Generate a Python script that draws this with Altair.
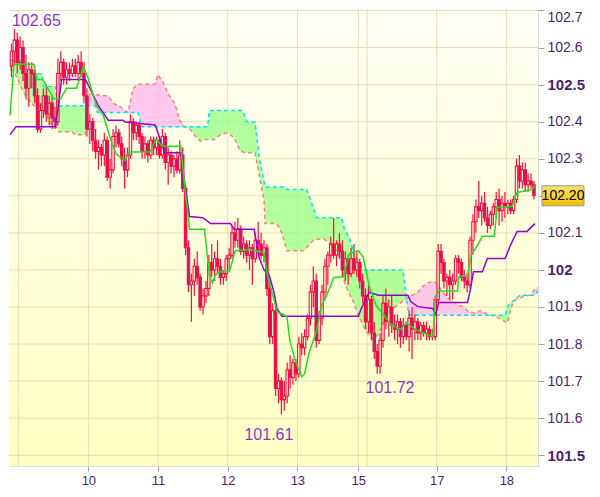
import altair as alt
import numpy as np
import pandas as pd

# ---------------- hourly candles (bar index k = 0 .. 180) ----------------
opens = [
    102.55, 102.59, 102.62, 102.56, 102.60, 102.53, 102.49, 102.54, 102.53, 102.47,
    102.38, 102.43, 102.47, 102.42, 102.45, 102.41, 102.40, 102.53, 102.56, 102.52,
    102.54, 102.53, 102.55, 102.53, 102.56, 102.53, 102.47, 102.38, 102.40, 102.35,
    102.32, 102.33, 102.31, 102.35, 102.25, 102.27, 102.36, 102.37, 102.34, 102.30,
    102.27, 102.31, 102.40, 102.37, 102.39, 102.36, 102.32, 102.34, 102.31, 102.35,
    102.33, 102.35, 102.31, 102.36, 102.29, 102.31, 102.28, 102.30, 102.27, 102.31,
    102.22, 102.06, 101.96, 101.97, 102.01, 101.98, 101.90, 101.93, 101.95, 102.02,
    102.00, 102.03, 102.01, 101.98, 101.99, 102.03, 102.04, 102.10, 102.08, 102.11,
    102.05, 102.07, 102.04, 102.06, 102.03, 102.08, 102.07, 102.04, 102.06, 101.95,
    101.82, 101.89, 101.68, 101.70, 101.65, 101.66, 101.73, 101.71, 101.75, 101.72,
    101.80, 101.79, 101.82, 101.87, 101.94, 101.97, 101.81, 101.87, 101.94, 102.01,
    102.04, 102.07, 102.04, 102.07, 102.05, 102.00, 102.03, 101.99, 102.03, 102.00,
    102.02, 101.97, 101.93, 101.86, 101.92, 101.83, 101.78, 101.74, 101.81, 101.91,
    101.86, 101.90, 101.85, 101.84, 101.86, 101.82, 101.85, 101.82, 101.87, 101.84,
    101.86, 101.83, 101.85, 101.83, 101.84, 101.82, 101.82, 101.92, 102.05, 102.02,
    101.97, 101.98, 101.96, 101.97, 102.03, 102.02, 101.98, 101.97, 101.96, 102.08,
    102.13, 102.17, 102.16, 102.18, 102.14, 102.12, 102.15, 102.17, 102.19, 102.16,
    102.18, 102.17, 102.18, 102.16, 102.19, 102.28, 102.24, 102.27, 102.23, 102.24, 102.23,
]
highs = [
    102.61, 102.65, 102.64, 102.63, 102.62, 102.58, 102.56, 102.56, 102.55, 102.49,
    102.45, 102.49, 102.50, 102.47, 102.47, 102.44, 102.57, 102.59, 102.57, 102.56,
    102.56, 102.57, 102.57, 102.58, 102.59, 102.56, 102.49, 102.42, 102.41, 102.38,
    102.35, 102.34, 102.37, 102.36, 102.30, 102.38, 102.39, 102.38, 102.36, 102.33,
    102.33, 102.42, 102.41, 102.40, 102.40, 102.37, 102.36, 102.35, 102.36, 102.36,
    102.36, 102.36, 102.38, 102.37, 102.33, 102.32, 102.31, 102.32, 102.35, 102.33,
    102.23, 102.08, 101.99, 102.03, 102.05, 101.99, 101.95, 101.97, 102.04, 102.07,
    102.05, 102.08, 102.03, 102.00, 102.04, 102.06, 102.12, 102.13, 102.14, 102.12,
    102.09, 102.08, 102.08, 102.07, 102.10, 102.13, 102.10, 102.08, 102.07, 101.97,
    101.91, 101.90, 101.72, 101.71, 101.70, 101.75, 101.77, 101.76, 101.76, 101.82,
    101.83, 101.84, 101.88, 101.96, 102.01, 101.99, 101.89, 101.96, 102.03, 102.05,
    102.09, 102.14, 102.08, 102.10, 102.08, 102.05, 102.04, 102.06, 102.07, 102.05,
    102.03, 101.99, 101.95, 101.96, 101.93, 101.86, 101.80, 101.83, 101.93, 101.95,
    101.92, 101.93, 101.88, 101.88, 101.87, 101.87, 101.86, 101.89, 101.90, 101.88,
    101.87, 101.86, 101.86, 101.86, 101.85, 101.84, 101.93, 102.07, 102.07, 102.03,
    101.99, 102.00, 101.99, 102.04, 102.04, 102.03, 102.00, 101.99, 102.09, 102.15,
    102.19, 102.24, 102.20, 102.21, 102.17, 102.16, 102.18, 102.21, 102.22, 102.20,
    102.21, 102.19, 102.19, 102.20, 102.30, 102.31, 102.29, 102.29, 102.26, 102.26, 102.24,
]
lows = [
    102.52, 102.55, 102.53, 102.54, 102.51, 102.46, 102.44, 102.49, 102.45, 102.37,
    102.37, 102.41, 102.40, 102.39, 102.38, 102.38, 102.39, 102.51, 102.50, 102.50,
    102.51, 102.52, 102.52, 102.51, 102.52, 102.45, 102.36, 102.34, 102.32, 102.30,
    102.27, 102.28, 102.28, 102.24, 102.22, 102.26, 102.33, 102.33, 102.28, 102.22,
    102.25, 102.30, 102.35, 102.35, 102.34, 102.30, 102.30, 102.29, 102.30, 102.31,
    102.31, 102.30, 102.30, 102.27, 102.23, 102.26, 102.25, 102.26, 102.26, 102.21,
    102.04, 101.94, 101.86, 101.93, 101.96, 101.89, 101.88, 101.91, 101.93, 101.98,
    101.97, 101.99, 101.96, 101.96, 101.97, 102.00, 102.03, 102.06, 102.06, 102.04,
    102.03, 102.02, 102.00, 101.96, 102.02, 102.05, 102.03, 102.02, 101.93, 101.80,
    101.80, 101.66, 101.64, 101.61, 101.62, 101.64, 101.68, 101.69, 101.70, 101.71,
    101.77, 101.77, 101.81, 101.85, 101.90, 101.79, 101.80, 101.85, 101.92, 101.96,
    102.02, 102.03, 102.01, 102.03, 101.98, 101.97, 101.96, 101.98, 101.99, 101.98,
    101.95, 101.91, 101.84, 101.83, 101.81, 101.76, 101.72, 101.72, 101.79, 101.84,
    101.82, 101.83, 101.81, 101.80, 101.79, 101.80, 101.81, 101.78, 101.76, 101.81,
    101.81, 101.81, 101.82, 101.81, 101.81, 101.81, 101.81, 101.91, 101.99, 101.95,
    101.93, 101.92, 101.92, 101.96, 101.99, 101.97, 101.95, 101.94, 101.95, 102.04,
    102.10, 102.14, 102.12, 102.13, 102.10, 102.11, 102.12, 102.14, 102.12, 102.13,
    102.14, 102.15, 102.15, 102.15, 102.18, 102.22, 102.22, 102.21, 102.21, 102.22, 102.19,
]
closes = [
    102.59, 102.62, 102.56, 102.60, 102.53, 102.49, 102.54, 102.53, 102.47, 102.38,
    102.43, 102.47, 102.42, 102.45, 102.41, 102.40, 102.53, 102.56, 102.52, 102.54,
    102.53, 102.55, 102.53, 102.56, 102.53, 102.47, 102.38, 102.40, 102.35, 102.32,
    102.33, 102.31, 102.35, 102.25, 102.27, 102.36, 102.37, 102.34, 102.30, 102.27,
    102.31, 102.40, 102.37, 102.39, 102.36, 102.32, 102.34, 102.31, 102.35, 102.33,
    102.35, 102.31, 102.36, 102.29, 102.31, 102.28, 102.30, 102.27, 102.31, 102.22,
    102.06, 101.96, 101.97, 102.01, 101.98, 101.90, 101.93, 101.95, 102.02, 102.00,
    102.03, 102.01, 101.98, 101.99, 102.03, 102.04, 102.10, 102.08, 102.11, 102.05,
    102.07, 102.04, 102.06, 102.03, 102.08, 102.07, 102.04, 102.06, 101.95, 101.82,
    101.89, 101.68, 101.70, 101.65, 101.66, 101.73, 101.71, 101.75, 101.72, 101.80,
    101.79, 101.82, 101.87, 101.94, 101.97, 101.81, 101.87, 101.94, 102.01, 102.04,
    102.07, 102.04, 102.07, 102.05, 102.00, 102.03, 101.99, 102.03, 102.00, 102.02,
    101.97, 101.93, 101.86, 101.92, 101.83, 101.78, 101.74, 101.81, 101.91, 101.86,
    101.90, 101.85, 101.84, 101.86, 101.82, 101.85, 101.82, 101.87, 101.84, 101.86,
    101.83, 101.85, 101.83, 101.84, 101.82, 101.82, 101.92, 102.05, 102.02, 101.97,
    101.98, 101.96, 101.97, 102.03, 102.02, 101.98, 101.97, 101.96, 102.08, 102.13,
    102.17, 102.16, 102.18, 102.14, 102.12, 102.15, 102.17, 102.19, 102.16, 102.18,
    102.17, 102.18, 102.16, 102.19, 102.28, 102.24, 102.27, 102.23, 102.24, 102.23, 102.20,
]

# ---------------- Ichimoku lines, read as (bar index, price) ----------------
tenkan_k = [0, 1.37, 8.21, 9.23, 11.28, 15.04, 17.44, 19.49, 22.91, 25.30, 27.01, 29.74,
            32.14, 34.87, 36.58, 39.66, 41.03, 48.21, 50.26, 52.65, 58.80, 60.51, 61.88,
            67.01, 68.72, 69.74, 70.77, 72.48, 75.56, 77.61, 82.74, 87.52, 88.55, 91.97,
            95.38, 96.41, 98.12, 100.5, 101.5, 102.91, 105.64, 107.35, 109.06, 111.45,
            114.87, 116.92, 120.00, 121.71, 123.76, 126.15, 128.89, 131.28, 134.70, 136.41,
            139.83, 145.64, 146.67, 147.69, 154.19, 154.53, 157.61, 158.97, 160.34, 162.74,
            166.84, 167.86, 170.60, 172.99, 174.70, 179.83, 180.85]
tenkan_v = [102.417, 102.555, 102.555, 102.514, 102.514, 102.462, 102.462, 102.490, 102.490,
            102.548, 102.516, 102.443, 102.417, 102.347, 102.313, 102.295, 102.318, 102.318,
            102.352, 102.334, 102.334, 102.201, 102.110, 102.110, 101.982, 101.966, 101.987,
            101.995, 101.995, 102.052, 102.055, 102.047, 101.992, 101.888, 101.875, 101.810,
            101.758, 101.712, 101.720, 101.773, 101.836, 101.904, 101.930, 101.979, 101.982,
            102.044, 102.052, 102.034, 101.956, 101.904, 101.878, 101.852, 101.839, 101.857,
            101.839, 101.820, 101.930, 101.943, 101.943, 101.982, 101.984, 102.044, 102.057,
            102.091, 102.091, 102.170, 102.170, 102.172, 102.209, 102.217, 102.227]

kijun_k = [0, 2.05, 15.73, 17.78, 25.98, 27.69, 30.43, 33.85, 38.97, 39.66, 49.91, 50.26,
           52.65, 53.33, 58.80, 60.17, 61.88, 66.32, 67.35, 69.06, 75.90, 77.26, 84.10, 85.81,
           87.52, 89.23, 90.94, 91.97, 93.68, 120.00, 121.03, 123.76, 126.84, 137.09, 138.12,
           140.51, 145.64, 146.67, 147.69, 157.61, 158.63, 159.66, 162.74, 164.44, 170.60,
           172.31, 174.70, 178.12, 180.85]
kijun_v = [102.365, 102.386, 102.386, 102.514, 102.514, 102.488, 102.443, 102.404, 102.404,
           102.399, 102.391, 102.386, 102.331, 102.316, 102.316, 102.235, 102.144, 102.141,
           102.136, 102.125, 102.125, 102.110, 102.110, 102.034, 102.000, 101.987, 101.940,
           101.896, 101.875, 101.875, 101.896, 101.940, 101.932, 101.932, 101.914, 101.901,
           101.896, 101.880, 101.912, 101.912, 101.948, 101.995, 101.995, 102.031, 102.031,
           102.065, 102.104, 102.104, 102.125]

spanA_k = [0, 3.76, 4.44, 7.52, 10.94, 11.62, 15.73, 16.41, 29.40, 30.09, 44.10, 45.47,
           68.03, 68.72, 80.00, 81.71, 84.44, 85.81, 87.86, 94.36, 95.38, 102.22, 105.64,
           114.19, 115.21, 116.92, 118.63, 121.71, 135.38, 136.41, 137.44, 170.60, 171.62,
           173.33, 175.73, 180.85, 181.88]
spanA_v = [102.566, 102.566, 102.548, 102.529, 102.529, 102.495, 102.495, 102.443, 102.443,
           102.425, 102.425, 102.386, 102.386, 102.430, 102.430, 102.399, 102.399, 102.305,
           102.224, 102.224, 102.217, 102.217, 102.141, 102.141, 102.110, 102.086, 102.044,
           102.000, 102.000, 101.930, 101.878, 101.878, 101.904, 101.917, 101.932, 101.932,
           101.943]

spanB_k = [0, 1.37, 3.08, 4.10, 5.81, 8.21, 10.94, 12.31, 14.36, 16.07, 16.75, 21.20, 22.56,
           25.98, 26.32, 27.01, 33.85, 35.56, 37.95, 39.66, 40.68, 42.39, 44.10, 49.91, 50.94,
           52.65, 54.36, 56.75, 58.46, 60.17, 62.22, 63.93, 65.64, 67.35, 70.43, 72.48, 74.87,
           77.26, 79.32, 81.03, 84.44, 86.15, 87.52, 87.86, 91.97, 93.68, 95.38, 101.20,
           104.62, 108.03, 110.09, 112.48, 114.19, 114.87, 116.58, 118.29, 120.00, 121.71,
           123.42, 125.13, 126.84, 128.89, 131.28, 133.68, 136.41, 138.12, 140.51, 142.22,
           144.27, 145.98, 147.35, 149.06, 151.11, 153.50, 155.90, 157.95, 160.34, 162.05,
           163.76, 167.18, 169.57, 171.28, 172.31, 173.33, 174.70, 176.41, 179.15, 180.85,
           181.88]
spanB_v = [102.542, 102.535, 102.508, 102.488, 102.464, 102.443, 102.443, 102.422, 102.391,
           102.386, 102.373, 102.373, 102.365, 102.365, 102.404, 102.475, 102.469, 102.449,
           102.441, 102.430, 102.425, 102.490, 102.501, 102.501, 102.527, 102.508, 102.477,
           102.449, 102.404, 102.386, 102.378, 102.360, 102.347, 102.352, 102.352, 102.365,
           102.370, 102.357, 102.321, 102.316, 102.316, 102.243, 102.190, 102.125, 102.125,
           102.099, 102.052, 102.052, 102.081, 102.084, 102.071, 102.052, 102.026, 101.974,
           101.940, 101.914, 101.878, 101.849, 101.826, 101.812, 101.826, 101.862, 101.891,
           101.906, 101.922, 101.930, 101.940, 101.956, 101.966, 101.969, 101.961, 101.940,
           101.922, 101.909, 101.901, 101.888, 101.883, 101.891, 101.883, 101.875, 101.865,
           101.857, 101.888, 101.914, 101.922, 101.927, 101.932, 101.948, 101.953]

# ---------------- axes / annotations ----------------
day_bounds = [3, 27, 51, 75, 99, 120, 123, 147, 171]
day_tick_k = [27, 51, 75, 99, 120, 147, 171]
day_tick_labels = ["10", "11", "12", "13", "15", "17", "18"]
y_ticks = [101.5, 101.6, 101.7, 101.8, 101.9, 102.0, 102.1, 102.2, 102.3, 102.4, 102.5, 102.6, 102.7]
ann_text = ["102.65", "101.61", "101.72"]
ann_k = [9.1, 89.2, 130.9]
ann_price = [102.672, 101.554, 101.682]
last_price = 102.20

# ---------------- styling ----------------
W, H = 529, 457
X_DOM = [-0.34, 181.9]
Y_DOM = [101.471, 102.704]
FONT = "Liberation Sans"
RED = "#ff0a3c"
DOWN_FILL = "#b0207a"
GRID = "#e2e0b2"
FRAME = "#9aa4ae"
LABEL = "#4b1f6f"

xlabel_expr = " : ".join(f"datum.value == {k} ? '{t}'" for k, t in zip(day_tick_k, day_tick_labels)) + " : ''"
xaxis = alt.Axis(values=day_tick_k, labelExpr=xlabel_expr, grid=False, domain=False, title=None,
                 tickSize=5, tickColor=FRAME, labelColor=LABEL, labelFont=FONT, labelFontSize=13,
                 labelPadding=3, labelFlush=False)
bold_test = "abs(datum.value*2 - round(datum.value*2)) < 0.001"
yaxis = alt.Axis(orient="right", values=y_ticks, grid=False, domain=False, title=None,
                 labelExpr="abs(datum.value - 102.2) < 0.001 ? '' : format(datum.value, '.1~f')",
                 tickSize=6, tickColor=FRAME, labelColor=LABEL, labelFont=FONT,
                 labelFontSize={"condition": {"test": bold_test, "value": 15}, "value": 14},
                 labelFontWeight={"condition": {"test": bold_test, "value": "bold"}, "value": "normal"},
                 labelPadding=3, labelFlush=6)


def X(field):
    return alt.X(field, type="quantitative", scale=alt.Scale(domain=X_DOM, nice=False, zero=False), axis=xaxis)


def Y(field):
    return alt.Y(field, type="quantitative", scale=alt.Scale(domain=Y_DOM, nice=False, zero=False), axis=yaxis)


n = len(opens)
candles = pd.DataFrame({"k": np.arange(n), "open": opens, "high": highs, "low": lows, "close": closes})
candles["xc"] = candles["k"] + 0.5
candles["x1"] = candles["k"] + 0.08
candles["x2"] = candles["k"] + 0.92
candles["top"] = candles[["open", "close"]].max(axis=1)
candles["bot"] = candles[["open", "close"]].min(axis=1)
candles["down"] = candles["close"] < candles["open"]
wicks = pd.concat([
    pd.DataFrame({"xc": candles["xc"], "a": candles["top"], "b": candles["high"]}),
    pd.DataFrame({"xc": candles["xc"], "a": candles["low"], "b": candles["bot"]}),
])

# cloud: both spans on a common set of their own breakpoints, split at crossings
ka, va = np.array(spanA_k), np.array(spanA_v)
kb, vb = np.array(spanB_k), np.array(spanB_v)
grid_k = np.union1d(ka, kb)
A = np.interp(grid_k, ka, va)
B = np.interp(grid_k, kb, vb)
rows = []
for i in range(len(grid_k)):
    rows.append((grid_k[i], A[i], B[i]))
    if i < len(grid_k) - 1:
        d0, d1 = A[i] - B[i], A[i + 1] - B[i + 1]
        if d0 * d1 < 0:
            t = d0 / (d0 - d1)
            kc = grid_k[i] + t * (grid_k[i + 1] - grid_k[i])
            vc = A[i] + t * (A[i + 1] - A[i])
            rows.append((kc, vc, vc))
cloud = pd.DataFrame(rows, columns=["k", "A", "B"])
cloud["hi"] = cloud[["A", "B"]].max(axis=1)

one = pd.DataFrame({"d": [0]})
bg = alt.Chart(one).mark_rect(
    fill=alt.Gradient(gradient="linear", x1=0, x2=0, y1=0, y2=1,
                      stops=[alt.GradientStop(color="#fffff6", offset=0),
                             alt.GradientStop(color="#ffffc3", offset=1)])
).encode(x=alt.value(0), x2=alt.value(W), y=alt.value(0), y2=alt.value(H))

vgrid = alt.Chart(pd.DataFrame({"k": day_bounds})).mark_rule(color=GRID, strokeWidth=1).encode(x=X("k"))
hgrid = alt.Chart(pd.DataFrame({"p": y_ticks})).mark_rule(color=GRID, strokeWidth=1).encode(y=Y("p"))

green = alt.Chart(cloud).mark_area(color="#98ff86", opacity=0.75, clip=True).encode(
    x=X("k"), y=Y("hi"), y2=alt.Y2("B"))
pink = alt.Chart(cloud).mark_area(color="#ffb6ec", opacity=0.75, clip=True).encode(
    x=X("k"), y=Y("hi"), y2=alt.Y2("A"))

lineB = alt.Chart(pd.DataFrame({"k": spanB_k, "v": spanB_v})).mark_line(
    color="#ff8080", strokeWidth=1.5, strokeDash=[4, 3], clip=True).encode(x=X("k"), y=Y("v"))
lineA = alt.Chart(pd.DataFrame({"k": spanA_k, "v": spanA_v})).mark_line(
    color="#00e4f2", strokeWidth=1.5, strokeDash=[4, 3], clip=True).encode(x=X("k"), y=Y("v"))

wick_layer = alt.Chart(wicks).mark_rule(color=RED, strokeWidth=1.2, clip=True).encode(
    x=X("xc"), y=Y("a"), y2=alt.Y2("b"))
body_layer = alt.Chart(candles).mark_rect(stroke=RED, strokeWidth=1.1, fill=DOWN_FILL, clip=True).encode(
    x=X("x1"), x2=alt.X2("x2"), y=Y("top"), y2=alt.Y2("bot"),
    fillOpacity=alt.condition("datum.down", alt.value(1), alt.value(0)))

kijun = alt.Chart(pd.DataFrame({"k": kijun_k, "v": kijun_v})).mark_line(
    color="#9900cc", strokeWidth=1.5, clip=True).encode(x=X("k"), y=Y("v"))
tenkan = alt.Chart(pd.DataFrame({"k": tenkan_k, "v": tenkan_v})).mark_line(
    color="#1fe01f", strokeWidth=1.5, clip=True).encode(x=X("k"), y=Y("v"))

ann = alt.Chart(pd.DataFrame({"k": ann_k, "p": ann_price, "t": ann_text})).mark_text(
    font=FONT, fontSize=16, color="#8e35c9", align="center", baseline="middle").encode(
    x=X("k"), y=Y("p"), text="t:N")

box_df = pd.DataFrame({"p": [last_price], "hi": [last_price + 0.027], "lo": [last_price - 0.027],
                       "t": [f"{last_price:.2f}"]})
box = alt.Chart(box_df).mark_rect(
    stroke="#8f9aa6", strokeWidth=1,
    fill=alt.Gradient(gradient="linear", x1=0, x2=0, y1=0, y2=1,
                      stops=[alt.GradientStop(color="#ffe36a", offset=0),
                             alt.GradientStop(color="#f2bd00", offset=1)])
).encode(x=alt.value(W + 4), x2=alt.value(W + 46), y=Y("hi"), y2=alt.Y2("lo"))
box_text = alt.Chart(box_df).mark_text(font=FONT, fontSize=14, color="#000000", align="center",
                                       baseline="middle").encode(
    x=alt.value(W + 25), y=Y("p"), text="t:N")

chart = alt.layer(
    bg, vgrid, hgrid, green, pink, lineB, lineA, wick_layer, body_layer, kijun, tenkan, ann, box, box_text
).properties(width=W, height=H, padding=0).configure_view(stroke=FRAME, strokeWidth=1).configure(font=FONT)

chart.save("out.html", embed_options={"renderer": "svg", "actions": False})
